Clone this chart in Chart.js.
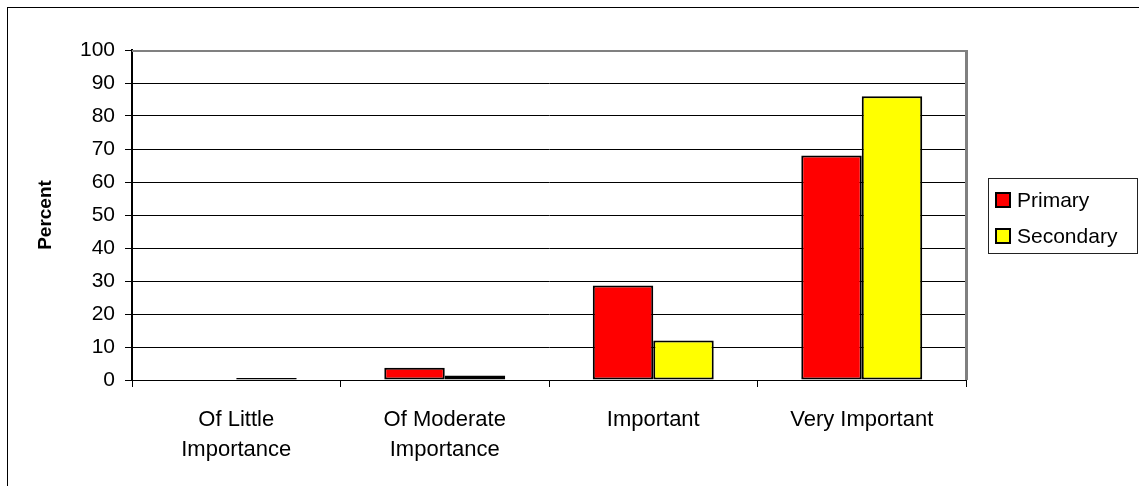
<!DOCTYPE html>
<html>
<head>
<meta charset="utf-8">
<script src="https://cdn.jsdelivr.net/npm/chart.js@4.4.0/dist/chart.umd.min.js"></script>
<style>
  html, body { margin: 0; padding: 0; background: #fff; overflow: hidden; }
  #wrap { position: relative; width: 1139px; height: 486px; overflow: hidden; }
  #frame { position: absolute; left: 7px; top: 7px; width: 1400px; height: 800px; border: 1px solid #000; }
  canvas { position: absolute; left: 0; top: 0; }
  #legend { position: absolute; left: 988px; top: 178px; width: 148px; height: 74px; border: 1px solid #222;
            font: 21px "Liberation Sans", Arial, sans-serif; color: #000; }
  #legend .item { position: absolute; left: 6px; height: 24px; display: flex; align-items: center; }
  #legend .sw { width: 12px; height: 12px; border: 2px solid #000; margin-right: 6px; }
</style>
</head>
<body>
<div id="wrap">
  <div id="frame"></div>
  <canvas id="chart" width="1139" height="486"></canvas>
  <div id="legend"></div>
</div>
<script>
// Importance ratings, percent of respondents
const categories = [["Of Little", "Importance"], ["Of Moderate", "Importance"], "Important", "Very Important"];
const seriesNames = ["Primary", "Secondary"];
const primary = [0, 3.7, 28.6, 68];
const secondary = [0.6, 1.4, 12, 86];
const colors = ["#ff0000", "#ffff00"];

const FONT = '"Liberation Sans", Arial, sans-serif';

// grey plot-area border (top + right), Excel style
const plotBorder = {
  id: "plotBorder",
  afterDraw(chart) {
    const { ctx, chartArea: a } = chart;
    ctx.save();
    ctx.fillStyle = "#808080";
    ctx.fillRect(a.left, a.top, a.right - a.left + 2, 2);
    ctx.fillRect(a.right - 1, a.top, 3, a.bottom - a.top);
    ctx.restore();
  }
};

const chart = new Chart(document.getElementById("chart"), {
  type: "bar",
  data: {
    labels: categories,
    datasets: [
      { label: seriesNames[0], data: primary, backgroundColor: colors[0] },
      { label: seriesNames[1], data: secondary, backgroundColor: colors[1] }
    ]
  },
  options: {
    responsive: false,
    animation: false,
    layout: { padding: { left: 24, right: 173, top: 50, bottom: 0 } },
    datasets: {
      bar: { borderColor: "#000", borderWidth: 2, borderSkipped: false,
             barPercentage: 1, categoryPercentage: 0.58 }
    },
    plugins: { legend: { display: false }, tooltip: { enabled: false } },
    scales: {
      x: {
        afterFit: (s) => { s.height = 106; },
        grid: { drawOnChartArea: false, drawTicks: true, tickLength: 7, color: "#000", lineWidth: 1 },
        border: { color: "#000", width: 1 },
        ticks: { color: "#000", padding: 18, maxRotation: 0, autoSkip: false,
                 font: { family: FONT, size: 22, lineHeight: 30 / 22 } }
      },
      y: {
        min: 0, max: 100,
        afterFit: (s) => { s.width = 108; },
        grid: { color: "#000", lineWidth: 1, tickLength: 7 },
        border: { color: "#000", width: 2 },
        ticks: { stepSize: 10, color: "#000", padding: 10, font: { family: FONT, size: 21 } },
        title: { display: true, text: "Percent", color: "#000", padding: 10,
                 font: { family: FONT, size: 19, weight: "bold" } }
      }
    }
  },
  plugins: [plotBorder]
});

// legend from the chart's own datasets
const legend = document.getElementById("legend");
chart.data.datasets.forEach((ds, i) => {
  const item = document.createElement("div");
  item.className = "item";
  item.style.top = (9 + i * 36) + "px";
  item.innerHTML = `<span class="sw" style="background:${ds.backgroundColor}"></span><span>${ds.label}</span>`;
  legend.appendChild(item);
});
</script>
</body>
</html>
